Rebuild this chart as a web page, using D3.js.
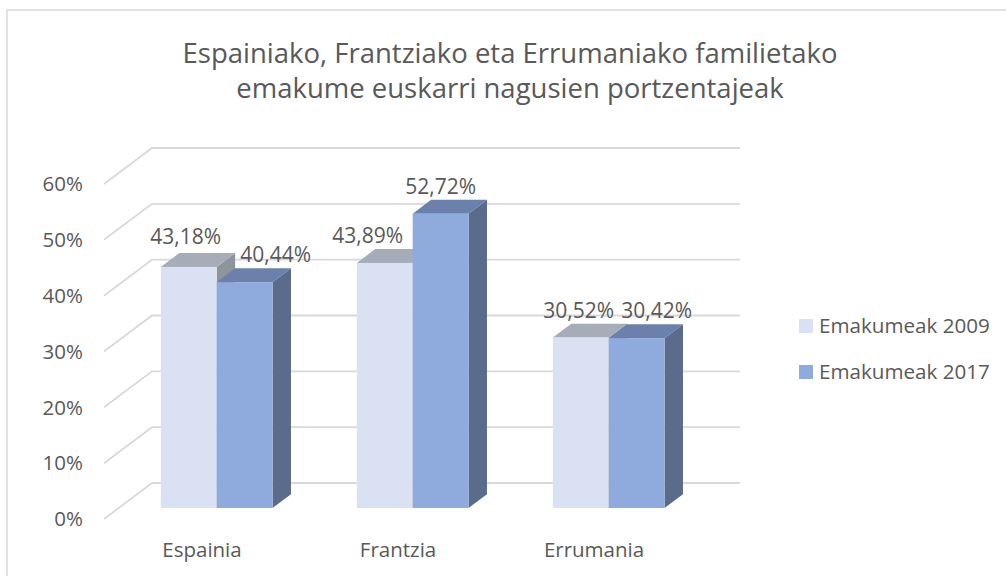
<!DOCTYPE html>
<html>
<head>
<meta charset="utf-8">
<script src="https://cdn.jsdelivr.net/npm/d3@7"></script>
<style>
  body { margin: 0; background: #fff; }
  text { font-family: "Open Sans", sans-serif; fill: #595959; }
</style>
</head>
<body>
<svg id="chart" width="1006" height="576"></svg>
<script>
// Data
let categories = ["Espainia", "Frantzia", "Errumania"];
let seriesNames = ["Emakumeak 2009", "Emakumeak 2017"];
let values2009 = [43.18, 43.89, 30.52];
let values2017 = [40.44, 52.72, 30.42];
let yTicks = [0, 10, 20, 30, 40, 50, 60];
let titleLines = ["Espainiako, Frantziako eta Errumaniako familietako", "emakume euskarri nagusien portzentajeak"];

// label nudges (layout only), [dx, dy] per series per category
let labelNudge = [
  [[-3, -3], [-17, 0], [-2, 0]],
  [[31, 0], [0, 0], [20, 0]]
];

let svg = d3.select("#chart");

// colours: front, top, side
let colors = [
  { front: "#dae1f2", top: "#a6adb8", side: "#8e949d" },
  { front: "#8faadc", top: "#6b80aa", side: "#5b6b8c" }
];

// chart frame
svg.append("rect")
  .attr("x", 7).attr("y", 10)
  .attr("width", 1010).attr("height", 580)
  .attr("fill", "none")
  .attr("stroke", "#d9d9d9")
  .attr("stroke-width", 1.5);

// 3d geometry
let depthX = 48, depthY = 36;
let barZ0 = 0.306, barZ1 = 0.69;
let proj = (x, y, z) => [x + z * depthX, y - z * depthY];

let xScale = d3.scaleBand().domain(categories).range([104, 692]).paddingInner(0.43).paddingOuter(0.215);
let sScale = d3.scaleBand().domain(seriesNames).range([0, xScale.bandwidth()]);
let yScale = d3.scaleLinear().domain([0, 60]).range([519, 184]);

// gridlines
let grid = svg.append("g");
yTicks.forEach(t => {
  let a = proj(104, yScale(t), 0), b = proj(104, yScale(t), 1);
  grid.append("path")
    .attr("d", `M${a[0]},${a[1]}L${b[0]},${b[1]}L${740},${b[1]}`)
    .attr("fill", "none")
    .attr("stroke", "#d9d9d9")
    .attr("stroke-width", 1.8);
});

// y axis labels
svg.append("g").selectAll("text")
  .data(yTicks)
  .join("text")
  .attr("x", 83)
  .attr("y", d => yScale(d))
  .attr("dy", "0.35em")
  .attr("text-anchor", "end")
  .style("font-size", "20.5px")
  .text(d => d + "%");

// bars
let series = [values2009, values2017];
let bars = svg.append("g");
categories.forEach((cat, ci) => {
  series.forEach((vals, si) => {
    let v = vals[ci];
    let x0 = xScale(cat) + sScale(seriesNames[si]);
    let x1 = x0 + sScale.bandwidth();
    let yb = yScale(0), yt = yScale(v);
    let pt = (x, y, z) => proj(x, y, z).join(",");
    let c = colors[si];
    // side
    bars.append("path")
      .attr("d", `M${pt(x1, yt, barZ0)}L${pt(x1, yt, barZ1)}L${pt(x1, yb, barZ1)}L${pt(x1, yb, barZ0)}Z`)
      .attr("fill", c.side);
    // top
    bars.append("path")
      .attr("d", `M${pt(x0, yt, barZ0)}L${pt(x1, yt, barZ0)}L${pt(x1, yt, barZ1)}L${pt(x0, yt, barZ1)}Z`)
      .attr("fill", c.top);
    // front
    let f0 = proj(x0, yt, barZ0), f1 = proj(x1, yb, barZ0);
    bars.append("rect")
      .attr("x", f0[0]).attr("y", f0[1])
      .attr("width", f1[0] - f0[0]).attr("height", f1[1] - f0[1])
      .attr("fill", c.front);
  });
});

// data labels
let labels = svg.append("g");
categories.forEach((cat, ci) => {
  series.forEach((vals, si) => {
    let v = vals[ci];
    let x0 = xScale(cat) + sScale(seriesNames[si]);
    let cx = proj(x0 + sScale.bandwidth() / 2, yScale(v), barZ0)[0];
    let backTop = proj(x0, yScale(v), barZ1)[1];
    let n = labelNudge[si][ci];
    labels.append("text")
      .attr("x", cx + n[0])
      .attr("y", backTop - 6 + n[1])
      .attr("text-anchor", "middle")
      .style("font-size", "21px")
      .text(v.toFixed(2).replace(".", ",") + "%");
  });
});

// category labels
svg.append("g").selectAll("text")
  .data(categories)
  .join("text")
  .attr("x", d => xScale(d) + xScale.bandwidth() / 2)
  .attr("y", 557)
  .attr("text-anchor", "middle")
  .style("font-size", "20.5px")
  .text(d => d);

// title
svg.append("g").selectAll("text")
  .data(titleLines)
  .join("text")
  .attr("x", 510)
  .attr("y", (d, i) => 63 + i * 35)
  .attr("text-anchor", "middle")
  .style("font-size", "27.5px")
  .text(d => d);

// legend
let legend = svg.append("g").selectAll("g")
  .data(seriesNames)
  .join("g")
  .attr("transform", (d, i) => `translate(799,${319 + i * 46})`);
legend.append("rect")
  .attr("width", 14).attr("height", 14)
  .attr("fill", (d, i) => colors[i].front);
legend.append("text")
  .attr("x", 20).attr("y", 14)
  .style("font-size", "20.6px")
  .text(d => d);
</script>
</body>
</html>
